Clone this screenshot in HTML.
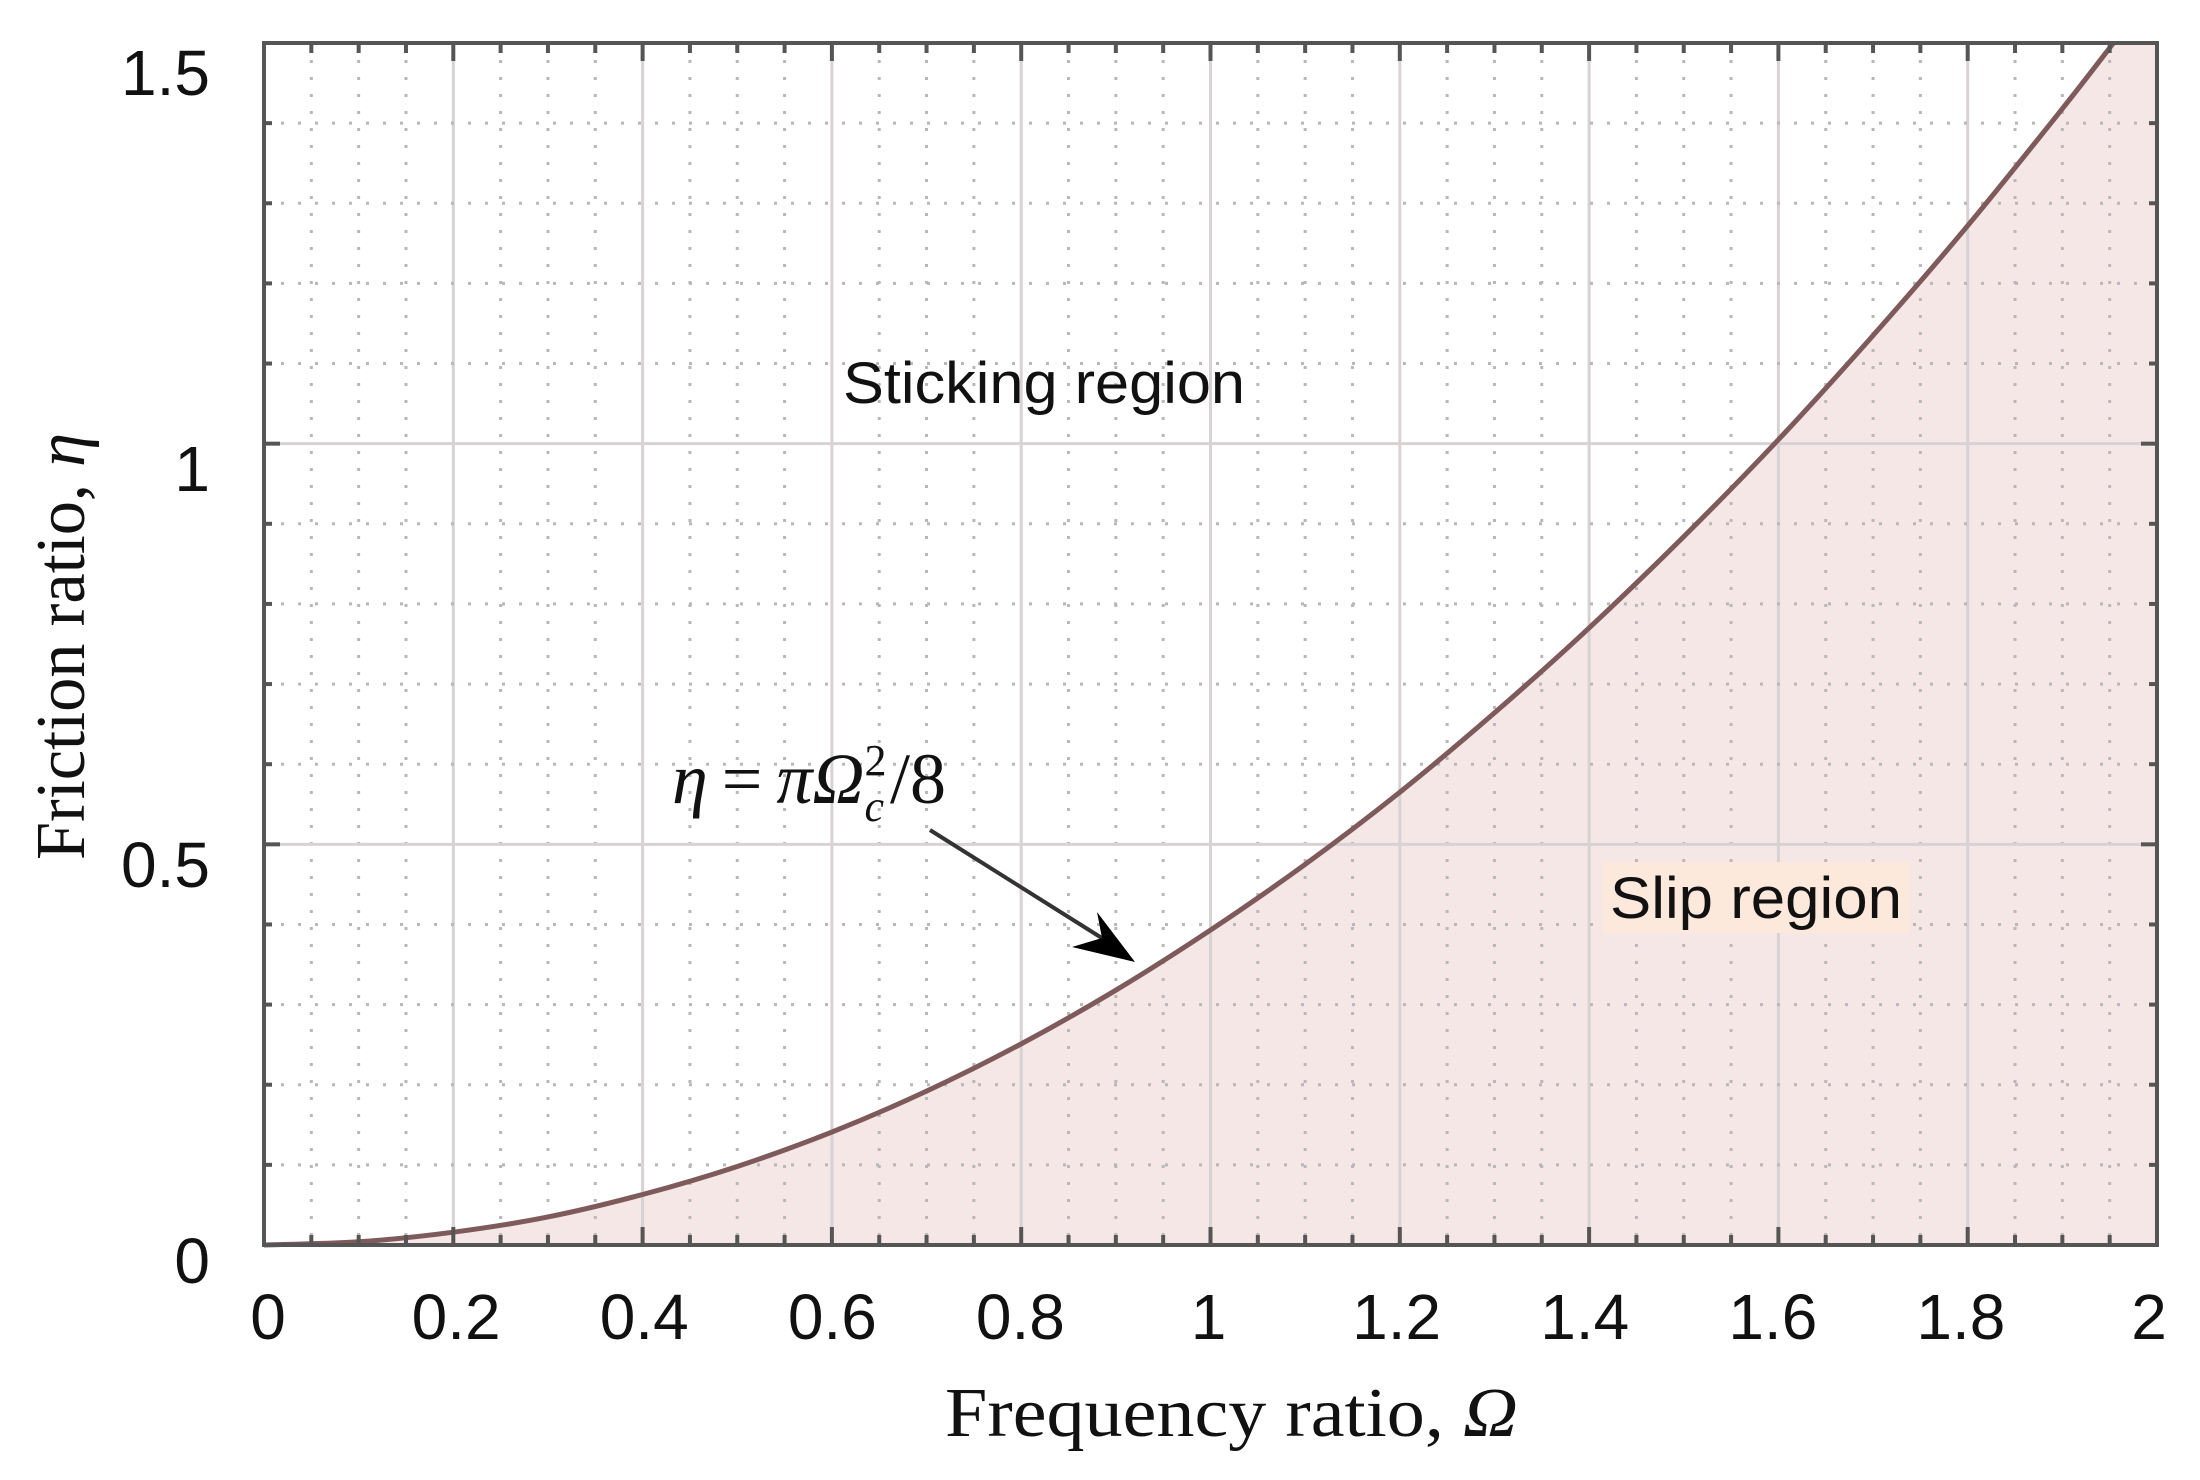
<!DOCTYPE html>
<html><head><meta charset="utf-8"><style>
html,body{margin:0;padding:0;background:#fff;width:2200px;height:1480px;overflow:hidden}
svg{display:block}
</style></head><body>
<svg id="chart" width="2200" height="1480" viewBox="0 0 2200 1480" xmlns="http://www.w3.org/2000/svg">
<g id="fillLayer"></g>
<g id="gridLayer"></g>
<g id="curveLayer"></g>
<g id="axisLayer"></g>
<g id="labelLayer"></g>
<text x="843" y="403" font-family="Liberation Sans, sans-serif" font-size="58" fill="#111" textLength="402" lengthAdjust="spacingAndGlyphs">Sticking region</text>
<rect x="1602" y="862" width="308" height="71" fill="#fde8dc"/>
<text x="1610" y="918" font-family="Liberation Sans, sans-serif" font-size="58" fill="#111" textLength="292" lengthAdjust="spacingAndGlyphs">Slip region</text>
<text x="672" y="803" font-family="Liberation Serif, serif" font-size="72" fill="#111" font-style="italic">η<tspan font-style="normal" dx="14">=</tspan><tspan dx="14">πΩ</tspan><tspan font-size="44" dy="-28" font-style="normal">2</tspan><tspan font-size="44" dx="-22" dy="46">c</tspan><tspan dy="-18" dx="6" font-style="normal">/8</tspan></text>
<line x1="930" y1="830" x2="1105" y2="940" stroke="#333" stroke-width="4"/>
<polygon points="1135,962 1097,912 1102,938 1072,947" fill="#000"/>
<text x="945" y="1436" font-family="Liberation Serif, serif" font-size="70" fill="#111" textLength="573" lengthAdjust="spacingAndGlyphs">Frequency ratio, <tspan font-style="italic">Ω</tspan></text>
<text transform="translate(84,860) rotate(-90)" font-family="Liberation Serif, serif" font-size="70" fill="#111" textLength="427" lengthAdjust="spacingAndGlyphs">Friction ratio, <tspan font-style="italic">η</tspan></text>
</svg>
<script>
var omega = [0,0.1,0.2,0.3,0.4,0.5,0.6,0.7,0.8,0.9,1.0,1.1,1.2,1.3,1.4,1.5,1.6,1.7,1.8,1.9,1.954];
var eta = [0,0.004,0.016,0.035,0.063,0.098,0.141,0.192,0.251,0.318,0.393,0.475,0.565,0.664,0.770,0.884,1.005,1.135,1.272,1.418,1.5];
var xTicks = [0,0.2,0.4,0.6,0.8,1,1.2,1.4,1.6,1.8,2];
var xTickLabels = ["0","0.2","0.4","0.6","0.8","1","1.2","1.4","1.6","1.8","2"];
var yTicks = [0,0.5,1,1.5];
var yTickLabels = ["0","0.5","1","1.5"];

var NS="http://www.w3.org/2000/svg";
var L=264,R=2157,T=43,B=1245,XMAX=2,YMAX=1.5;
function sx(v){return L+(R-L)*v/XMAX;}
function sy(v){return B-(B-T)*v/YMAX;}
function mk(tag,attrs,parent){var e=document.createElementNS(NS,tag);for(var k in attrs)e.setAttribute(k,attrs[k]);parent.appendChild(e);return e;}
var fillL=document.getElementById('fillLayer'),gridL=document.getElementById('gridLayer'),curveL=document.getElementById('curveLayer'),axisL=document.getElementById('axisLayer'),labL=document.getElementById('labelLayer');

var pts=omega.map(function(o,i){return [sx(o),sy(eta[i])];});
var d="M"+pts[0][0]+","+pts[0][1];
for(var i=0;i<pts.length-1;i++){
  var p0=pts[Math.max(0,i-1)],p1=pts[i],p2=pts[i+1],p3=pts[Math.min(pts.length-1,i+2)];
  var c1x=p1[0]+(p2[0]-p0[0])/6,c1y=p1[1]+(p2[1]-p0[1])/6,c2x=p2[0]-(p3[0]-p1[0])/6,c2y=p2[1]-(p3[1]-p1[1])/6;
  d+=" C"+c1x+","+c1y+" "+c2x+","+c2y+" "+p2[0]+","+p2[1];
}
var fp=mk('path',{d:d+" L"+sx(XMAX)+","+sy(YMAX)+" L"+sx(XMAX)+","+sy(0)+" Z",fill:"#f6e7e7"},fillL);



for(var k=1;k<40;k++){
  var v=k*0.05, x=sx(v), major=(k%4===0);
  var g=mk('line',{x1:x,y1:T,x2:x,y2:B,stroke:major?"#d8d2d2":"#b8b8b8","stroke-width":3,"stroke-dasharray":major?"none":"3 14"},gridL);
  
  
}
for(var k=1;k<15;k++){
  var v=k*0.1, y=sy(v), major=(k%5===0);
  var g=mk('line',{x1:L,y1:y,x2:R,y2:y,stroke:major?"#d8d2d2":"#b8b8b8","stroke-width":3,"stroke-dasharray":major?"none":"3 14"},gridL);
  
  
}
var cp=mk('path',{d:d,fill:"none",stroke:"#7e5a5a","stroke-width":5},curveL);



var bx=mk('rect',{x:L,y:T,width:R-L,height:B-T,fill:"none",stroke:"#555","stroke-width":4},axisL);


for(var k=1;k<40;k++){
  var x=sx(k*0.05), len=(k%4===0)?18:10;
  var t1=mk('line',{x1:x,y1:B,x2:x,y2:B-len,stroke:"#555","stroke-width":4},axisL);
  
  
  var t2=mk('line',{x1:x,y1:T,x2:x,y2:T+len,stroke:"#555","stroke-width":4},axisL);
  
  
}
for(var k=1;k<15;k++){
  var y=sy(k*0.1), len=(k%5===0)?16:8;
  var t1=mk('line',{x1:L,y1:y,x2:L+len,y2:y,stroke:"#555","stroke-width":4},axisL);
  
  
  var t2=mk('line',{x1:R,y1:y,x2:R-len,y2:y,stroke:"#555","stroke-width":4},axisL);
  
  
}
xTicks.forEach(function(v,i){
  var t=mk('text',{x:268+(2149-268)*v/XMAX,y:1339,"text-anchor":"middle","font-family":"Liberation Sans, sans-serif","font-size":64,fill:"#111"},labL);
  t.textContent=xTickLabels[i];
  
  
});
yTicks.forEach(function(v,i){
  var t=mk('text',{x:210,y:sy(v)+38+14*v/YMAX,"text-anchor":"end","font-family":"Liberation Sans, sans-serif","font-size":64,fill:"#111"},labL);
  t.textContent=yTickLabels[i];
  
  
});
</script>
</body></html>
